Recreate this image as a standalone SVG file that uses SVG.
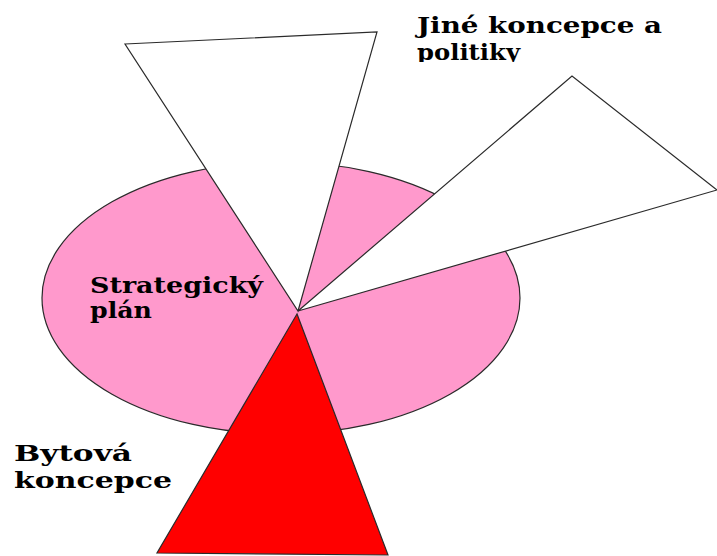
<svg xmlns="http://www.w3.org/2000/svg" width="717" height="556" viewBox="0 0 717 556">
<defs>
<style>
.shape{stroke:#2a2a2a;stroke-width:1.2;stroke-linejoin:miter}
text{font-family:'DejaVu Serif','Liberation Serif',serif;font-weight:700;font-size:22px;fill:#000}
</style>
<clipPath id="clipTop"><rect x="0" y="0" width="717" height="62"/></clipPath>
</defs>
<rect x="0" y="0" width="717" height="556" fill="#ffffff"/>
<g id="strategicky-plan">
<ellipse class="shape" cx="281" cy="298" rx="239" ry="136" fill="#ff99cc"/>
<text x="90" y="293" textLength="173" lengthAdjust="spacingAndGlyphs">Strategický</text>
<text x="90" y="318" textLength="62" lengthAdjust="spacingAndGlyphs">plán</text>
</g>
<g id="jine-koncepce-1">
<polygon class="shape" points="125,44 377,32 298,311" fill="#ffffff"/>
</g>
<g id="jine-koncepce-2">
<polygon class="shape" points="298,311 572,76 717,190" fill="#ffffff"/>
</g>
<g id="jine-koncepce-label" clip-path="url(#clipTop)">
<text x="417" y="33" textLength="245" lengthAdjust="spacingAndGlyphs">Jiné koncepce a</text>
<text x="417" y="60" textLength="103" lengthAdjust="spacingAndGlyphs">politiky</text>
</g>
<g id="bytova-koncepce">
<polygon class="shape" points="297,314 157,553 388,555" fill="#ff0000"/>
<text x="14" y="461" textLength="118" lengthAdjust="spacingAndGlyphs">Bytová</text>
<text x="14" y="488" textLength="158" lengthAdjust="spacingAndGlyphs">koncepce</text>
</g>
</svg>
